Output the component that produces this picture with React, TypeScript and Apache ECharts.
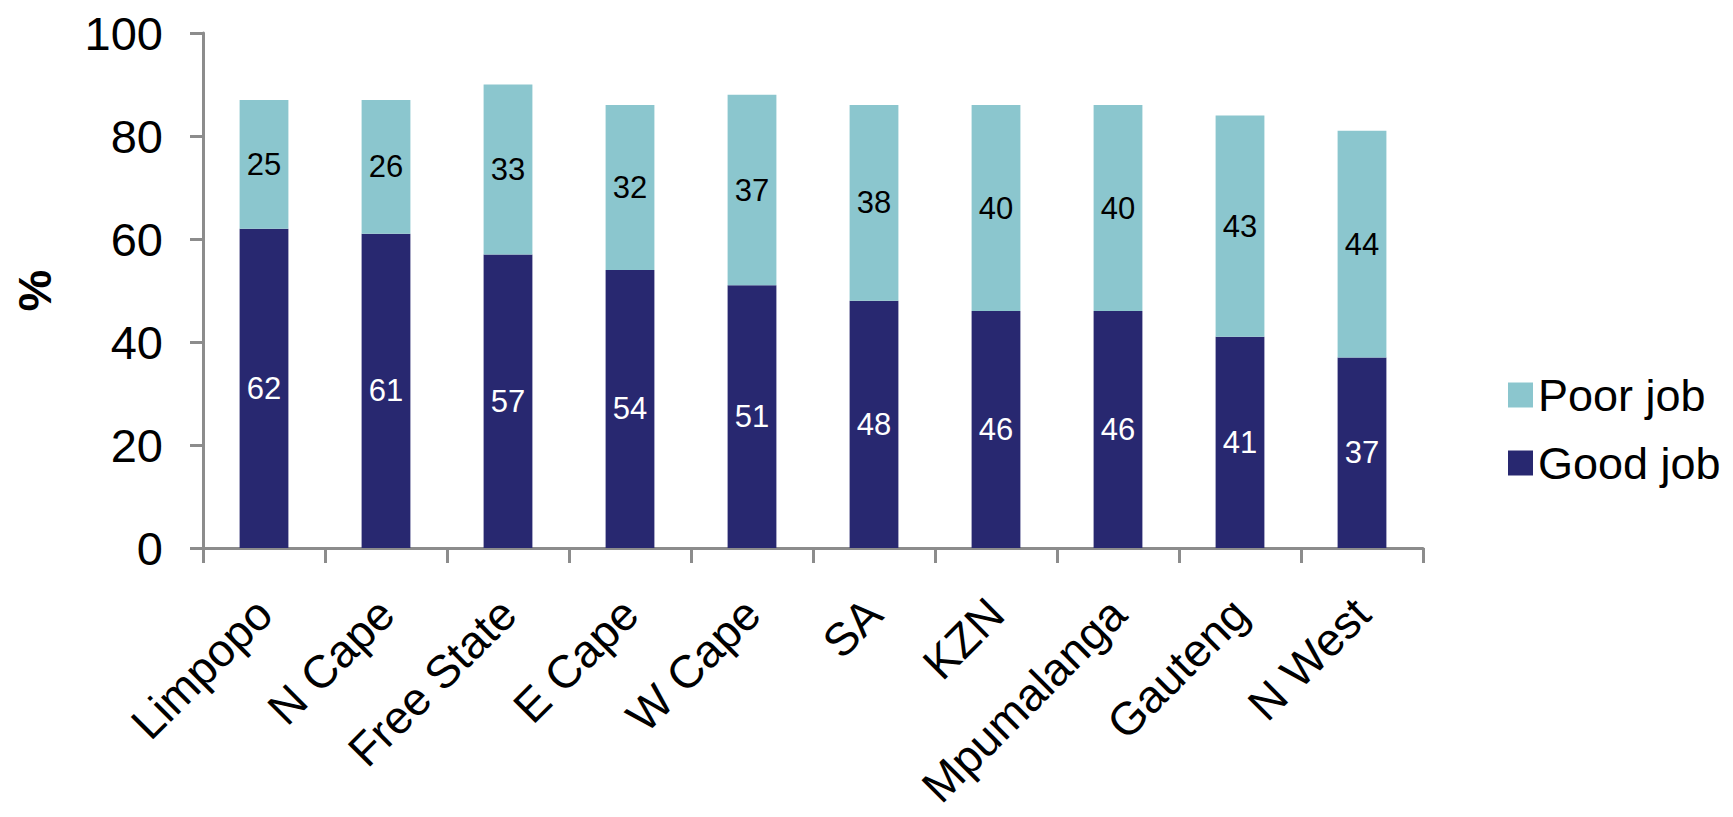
import React, { useEffect, useRef } from "react";
import * as echarts from "echarts";

const categories = ["Limpopo", "N Cape", "Free State", "E Cape", "W Cape", "SA", "KZN", "Mpumalanga", "Gauteng", "N West"];
const goodJob = [62, 61, 57, 54, 51, 48, 46, 46, 41, 37];
const poorJob = [25, 26, 33, 32, 37, 38, 40, 40, 43, 44];
const yTicks = { min: 0, max: 100, interval: 20 };

const FONT = "'Liberation Sans', Arial, sans-serif";
const AXIS_GRAY = "#8c8c8c";

export default function App() {
  const ref = useRef<HTMLDivElement>(null);
  useEffect(() => {
    if (!ref.current) return;
    const chart = echarts.init(ref.current, null, { renderer: "svg" });
    chart.setOption({
      animation: false,
      backgroundColor: "#ffffff",
      textStyle: { fontFamily: FONT },
      grid: { left: 203, top: 33, right: 310, bottom: 269, containLabel: false },
      legend: {
        orient: "vertical",
        left: 1503,
        top: 367,
        itemWidth: 25,
        itemHeight: 25,
        itemGap: 22,
        icon: "rect",
        data: ["Poor job", "Good job"],
        textStyle: { fontSize: 45, color: "#000", fontFamily: FONT, lineHeight: 46 },
      },
      xAxis: {
        type: "category",
        data: categories,
        axisLine: { show: true, lineStyle: { color: AXIS_GRAY, width: 3 } },
        axisTick: { show: true, length: 15, lineStyle: { color: AXIS_GRAY, width: 3 } },
        axisLabel: { interval: 0, rotate: 45, fontSize: 46, color: "#000", margin: 58, fontFamily: FONT },
        splitLine: { show: false },
      },
      yAxis: {
        type: "value",
        min: yTicks.min,
        max: yTicks.max,
        interval: yTicks.interval,
        name: "%",
        nameLocation: "middle",
        nameRotate: 90,
        nameGap: 145,
        nameTextStyle: { fontSize: 47, fontWeight: "bold", color: "#000", fontFamily: FONT },
        axisLine: { show: true, lineStyle: { color: AXIS_GRAY, width: 3 } },
        axisTick: { show: true, length: 13, lineStyle: { color: AXIS_GRAY, width: 3 } },
        axisLabel: { fontSize: 47, color: "#000", margin: 40, fontFamily: FONT },
        splitLine: { show: false },
      },
      series: [
        {
          name: "Good job",
          type: "bar",
          stack: "total",
          barWidth: "40%",
          data: goodJob,
          itemStyle: { color: "#282870" },
          label: { show: true, position: "inside", fontSize: 31, color: "#ffffff", fontFamily: FONT },
        },
        {
          name: "Poor job",
          type: "bar",
          stack: "total",
          barWidth: "40%",
          data: poorJob,
          itemStyle: { color: "#8bc6ce" },
          label: { show: true, position: "inside", fontSize: 31, color: "#000000", fontFamily: FONT },
        },
      ],
    });
    return () => chart.dispose();
  }, []);
  return (
    <div
      ref={ref}
      style={{ position: "fixed", left: 0, top: 0, width: 1733, height: 817, background: "#fff" }}
    />
  );
}
